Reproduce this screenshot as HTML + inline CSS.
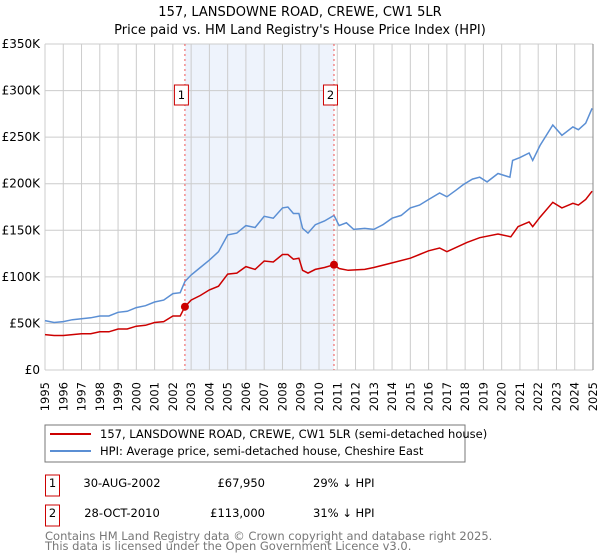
<!DOCTYPE html>
<html><head><meta charset="utf-8"><style>
body{margin:0;background:#fff;font-family:"Liberation Sans","DejaVu Sans",sans-serif;}
#wrap{position:relative;width:600px;height:560px;overflow:hidden}
</style></head><body><div id="wrap">
<svg id="chart" width="600" height="560" style="position:absolute;left:0;top:0" font-family="DejaVu Sans, Liberation Sans, sans-serif">
<text x="300" y="16" text-anchor="middle" font-size="13" fill="#000">157, LANSDOWNE ROAD, CREWE, CW1 5LR</text>
<text x="300" y="34" text-anchor="middle" font-size="13" fill="#000">Price paid vs. HM Land Registry's House Price Index (HPI)</text>
<g id="grid"></g><g id="marks"></g>
<rect x="45" y="425" width="420" height="37" fill="#fff" stroke="#777"/>
<line x1="50" y1="434" x2="91" y2="434" stroke="#cc0000" stroke-width="2"/>
<text x="100" y="438" font-size="11.5">157, LANSDOWNE ROAD, CREWE, CW1 5LR (semi-detached house)</text>
<line x1="50" y1="451" x2="91" y2="451" stroke="#5b8fd4" stroke-width="2"/>
<text x="100" y="455" font-size="11.5">HPI: Average price, semi-detached house, Cheshire East</text>
<g>
<rect x="45.5" y="475" width="14" height="21" fill="#fff" stroke="#cc0000"/>
<text x="52.5" y="487" text-anchor="middle" font-size="11.5">1</text>
<text x="122" y="487" text-anchor="middle" font-size="11.5">30-AUG-2002</text>
<text x="265" y="487" text-anchor="end" font-size="11.5">£67,950</text>
<text x="313" y="487" font-size="11.5">29% ↓ HPI</text></g>
<g>
<rect x="45.5" y="505" width="14" height="21" fill="#fff" stroke="#cc0000"/>
<text x="52.5" y="517" text-anchor="middle" font-size="11.5">2</text>
<text x="122" y="517" text-anchor="middle" font-size="11.5">28-OCT-2010</text>
<text x="265" y="517" text-anchor="end" font-size="11.5">£113,000</text>
<text x="313" y="517" font-size="11.5">31% ↓ HPI</text></g>
<text x="45" y="540" font-size="11.5" fill="#777">Contains HM Land Registry data © Crown copyright and database right 2025.</text>
<text x="45" y="550" font-size="11.5" fill="#777">This data is licensed under the Open Government Licence v3.0.</text>
</svg>
<script>
const hpiYears=[1995,1995.5,1996,1996.5,1997,1997.5,1998,1998.5,1999,1999.5,2000,2000.5,2001,2001.5,2002,2002.4,2002.66,2003,2003.5,2004,2004.5,2005,2005.5,2006,2006.5,2007,2007.5,2008,2008.3,2008.6,2008.9,2009.1,2009.4,2009.8,2010.3,2010.82,2011.1,2011.5,2011.9,2012.5,2013,2013.5,2014,2014.5,2015,2015.5,2016,2016.6,2017,2017.5,2017.9,2018.4,2018.8,2019.2,2019.8,2020.45,2020.6,2021,2021.5,2021.7,2022.1,2022.8,2023.3,2023.9,2024.2,2024.6,2024.95];
const hpiValues=[53,51,52,54,55,56,58,58,62,63,67,69,73,75,82,83,95,102,110,118,127,145,147,155,153,165,163,174,175,168,168,152,147,156,160,166,155,158,151,152,151,156,163,166,174,177,183,190,186,193,199,205,207,202,211,207,225,228,233,225,241,263,252,261,258,265,281];
const ppYears=[1995,1995.5,1996,1996.5,1997,1997.5,1998,1998.5,1999,1999.5,2000,2000.5,2001,2001.5,2002,2002.4,2002.66,2003,2003.5,2004,2004.5,2005,2005.5,2006,2006.5,2007,2007.5,2008,2008.3,2008.6,2008.9,2009.1,2009.4,2009.8,2010.3,2010.82,2011.1,2011.6,2012.5,2013,2014,2015,2015.5,2016,2016.6,2017,2018.1,2018.8,2019.8,2020.5,2020.9,2021.5,2021.7,2022.1,2022.8,2023.3,2023.9,2024.2,2024.6,2024.95];
const ppValues=[38,37,37,38,39,39,41,41,44,44,47,48,51,52,58,58,68,75,80,86,90,103,104,111,108,117,116,124,124,119,120,107,104,108,110,113,109,107,108,110,115,120,124,128,131,127,137,142,146,143,154,159,154,164,180,174,179,177,183,192];
const sales=[{label:'1',year:2002.66,value:67.95},{label:'2',year:2010.82,value:113}];
const yTicks=[0,50,100,150,200,250,300,350];
const yTickLabels=['£0','£50K','£100K','£150K','£200K','£250K','£300K','£350K'];
const xTicks=[];for(let y=1995;y<=2025;y++)xTicks.push(y);
const X0=45,X1=593,Y0=370,Y1=44;
const xs=v=>X0+(v-1995)/30*(X1-X0);
const ys=v=>Y0-v/350*(Y0-Y1);
const NS='http://www.w3.org/2000/svg';
function mk(t,a,p){const e=document.createElementNS(NS,t);for(const k in a)e.setAttribute(k,a[k]);p.appendChild(e);return e;}
const grid=document.getElementById('grid'),marks=document.getElementById('marks');
const shade=mk('rect',{x:xs(sales[0].year),y:Y1,width:xs(sales[1].year)-xs(sales[0].year),height:Y0-Y1,fill:'#eef3fc'},grid);


xTicks.forEach(t=>{
 const l=mk('line',{x1:xs(t),x2:xs(t),y1:Y1,y2:Y0,stroke:'#cccccc'},grid);
 
 
 const tx=mk('text',{x:0,y:0,transform:`translate(${xs(t)+4},382) rotate(-90)`,'text-anchor':'end','font-size':'11.5'},grid);
 tx.textContent=t;
 
 
});
yTicks.forEach((t,i)=>{
 const l=mk('line',{x1:X0,x2:X1,y1:ys(t),y2:ys(t),stroke:'#cccccc'},grid);
 
 
 const tx=mk('text',{x:40,y:ys(t)+4,'text-anchor':'end','font-size':'12'},grid);
 tx.textContent=yTickLabels[i];
 
 
});
const ax=mk('line',{x1:X1,x2:X1,y1:Y1,y2:Y0,stroke:'#888'},grid);


function path(xa,va){return xa.map((x,i)=>(i?'L':'M')+xs(x).toFixed(1)+','+ys(va[i]).toFixed(1)).join('');}
const hp=mk('path',{d:path(hpiYears,hpiValues),fill:'none',stroke:'#5b8fd4','stroke-width':1.5},marks);


const pp=mk('path',{d:path(ppYears,ppValues),fill:'none',stroke:'#cc0000','stroke-width':1.5},marks);


sales.forEach(s=>{
 const l=mk('line',{x1:xs(s.year),x2:xs(s.year),y1:Y1,y2:Y0,stroke:'#ee5555','stroke-dasharray':'2,3'},marks);
 
 
 const c=mk('circle',{cx:xs(s.year),cy:ys(s.value),r:4,fill:'#cc0000'},marks);
 
 
 const r=mk('rect',{x:xs(s.year)-10.5,y:85,width:14,height:20,fill:'#fff',stroke:'#cc0000'},marks);
 
 
 const t=mk('text',{x:xs(s.year)-3.5,y:99,'text-anchor':'middle','font-size':'11.5'},marks);
 t.textContent=s.label;
 
 
});
</script>
</div></body></html>
